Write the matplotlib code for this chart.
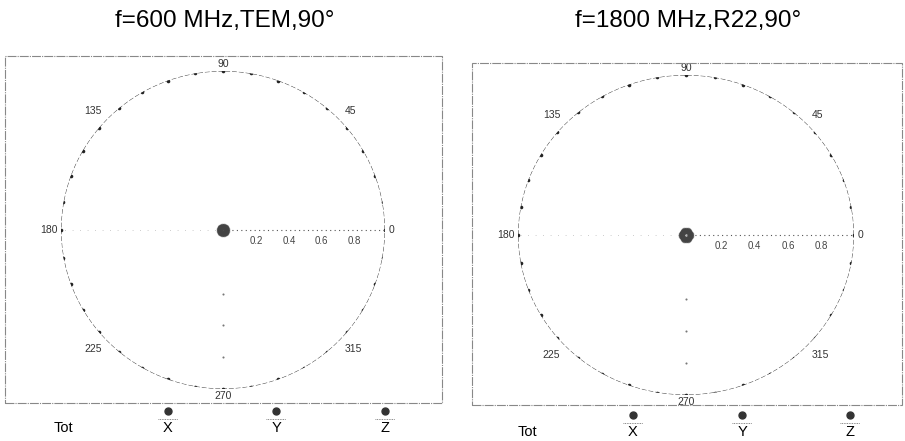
#!/usr/bin/env python3
"""Polar field-isotropy plots for two probe set-ups (600 MHz TEM, 1800 MHz R22)."""

import numpy as np
import matplotlib

matplotlib.use("Agg")
import matplotlib.pyplot as plt
from matplotlib.patches import Rectangle

plt.rcParams["font.family"] = ["Liberation Sans", "DejaVu Sans"]

FIG_W, FIG_H = 905, 441

TITLES = ["f=600 MHz,TEM,90°", "f=1800 MHz,R22,90°"]

# probe rotation angles (deg) and normalised total field for each panel
ANGLES_DEG = list(range(0, 360, 10))
TOT_600 = [0.02, 0.02, 0.025, 0.02, 0.02, 0.025, 0.02, 0.02, 0.025,
           0.02, 0.02, 0.025, 0.02, 0.02, 0.025, 0.02, 0.02, 0.025,
           0.02, 0.02, 0.025, 0.02, 0.02, 0.025, 0.02, 0.02, 0.025,
           0.02, 0.02, 0.025, 0.02, 0.02, 0.025, 0.02, 0.02, 0.025]
TOT_1800 = [0.025, 0.03, 0.025, 0.03, 0.025, 0.03, 0.025, 0.03, 0.025,
            0.03, 0.025, 0.03, 0.025, 0.03, 0.025, 0.03, 0.025, 0.03,
            0.025, 0.03, 0.025, 0.03, 0.025, 0.03, 0.025, 0.03, 0.025,
            0.03, 0.025, 0.03, 0.025, 0.03, 0.025, 0.03, 0.025, 0.03]

RADIAL_TICKS = [0.2, 0.4, 0.6, 0.8]
ANGLE_LABELS = [0, 45, 90, 135, 180, 225, 270, 315]
LEGEND_LABELS = ["Tot", "X", "Y", "Z"]

# pixel layout: circle centre, radii, frame box, legend positions
PANELS = [
    dict(cx=223, cy=230, rx=162, ry=159, frame=(5, 56, 442, 403),
         leg_x=[63, 168, 276, 385], leg_dot_y=411, leg_txt_y=428),
    dict(cx=686, cy=235, rx=168, ry=160, frame=(472, 63, 902, 405),
         leg_x=[527, 633, 742, 850], leg_dot_y=415, leg_txt_y=432),
]


def fx(x):
    return x / FIG_W


def fy(y):
    return 1 - y / FIG_H


def draw_panel(fig, layout, title, tot):
    cx, cy, rx, ry = layout["cx"], layout["cy"], layout["rx"], layout["ry"]
    ax = fig.add_axes([fx(cx - rx), fy(cy + ry), 2 * rx / FIG_W, 2 * ry / FIG_H],
                      projection="polar")
    ax.set_aspect("auto")
    ax.set_ylim(0, 1)
    ax.grid(False)
    ax.spines["polar"].set_visible(False)
    ax.set_xticks([])
    ax.set_yticks([])
    ax.patch.set_alpha(0)

    # outer reference circle with a dot every 10 degrees
    th = np.linspace(0, 2 * np.pi, 361)
    ax.plot(th, np.ones_like(th), color="#444444", lw=0.7, ls=(0, (5, 2)))
    ang = np.deg2rad(ANGLES_DEG)
    ax.plot(ang, np.ones(len(ang)), ls="none", marker="o", ms=2.6, color="#222222",
            mew=0)

    # radial guide lines
    ax.plot([0, 0], [0, 1], color="#555555", lw=0.8, ls=(0, (1, 3)))
    ax.plot([np.pi, np.pi], [0, 1], color="#bbbbbb", lw=0.6, ls=(0, (1, 8)))
    ax.plot([1.5 * np.pi] * 3, [0.4, 0.6, 0.8], ls="none", marker="o",
            ms=1.5, mew=0, color="#777777")

    for r in RADIAL_TICKS:
        ax.annotate(f"{r:.1f}", xy=(0, r), xytext=(1, -8), textcoords="offset points",
                    fontsize=7, ha="center", va="center", color="#444444")

    offsets = {0: (0.0, 1.02, "left", "center"),
               90: (90, 1.045, "center", "center"),
               180: (180, 1.02, "right", "center"),
               270: (270, 1.045, "center", "center")}
    for a in ANGLE_LABELS:
        if a in offsets:
            t, r, ha, va = offsets[a]
        else:
            t, r = a, 1.06
            ha = "left" if a in (45, 315) else "right"
            va = "center"
        ax.text(np.deg2rad(t), r, str(a), fontsize=7.5, ha=ha, va=va, color="#333333",
                clip_on=False)

    # measured total field: collapses into a blob at the centre
    ax.plot(ang, tot, color="#222222", lw=2.0)
    ax.plot(ang, tot, ls="none", marker="o", ms=3, color="#444444", alpha=0.6)

    x0, y0, x1, y1 = layout["frame"]
    fig.add_artist(Rectangle((fx(x0), fy(y1)), (x1 - x0) / FIG_W, (y1 - y0) / FIG_H,
                             transform=fig.transFigure, fill=False,
                             ec="#888888", lw=0.8, ls=(0, (8, 1, 1, 1))))

    fig.text(fx(cx + 2), fy(21), title, fontsize=17.5, ha="center", va="center")

    for label, lx in zip(LEGEND_LABELS, layout["leg_x"]):
        fig.text(fx(lx), fy(layout["leg_txt_y"]), label, fontsize=10.5,
                 ha="center", va="center")
        if label == "Tot":
            continue
        fig.add_artist(plt.Line2D([fx(lx)], [fy(layout["leg_dot_y"])], marker="o",
                                  ms=5, color="#333333", transform=fig.transFigure))
        fig.add_artist(plt.Line2D([fx(lx - 10), fx(lx + 10)],
                                  [fy(layout["leg_dot_y"] + 8)] * 2,
                                  color="#666666", lw=0.6, ls=(0, (1, 1)),
                                  transform=fig.transFigure))


def main():
    fig = plt.figure(figsize=(FIG_W / 100, FIG_H / 100), dpi=100)
    fig.patch.set_facecolor("white")
    for layout, title, tot in zip(PANELS, TITLES, [TOT_600, TOT_1800]):
        draw_panel(fig, layout, title, tot)
    fig.savefig("out.png", dpi=100)
    plt.close(fig)


if __name__ == "__main__":
    main()
